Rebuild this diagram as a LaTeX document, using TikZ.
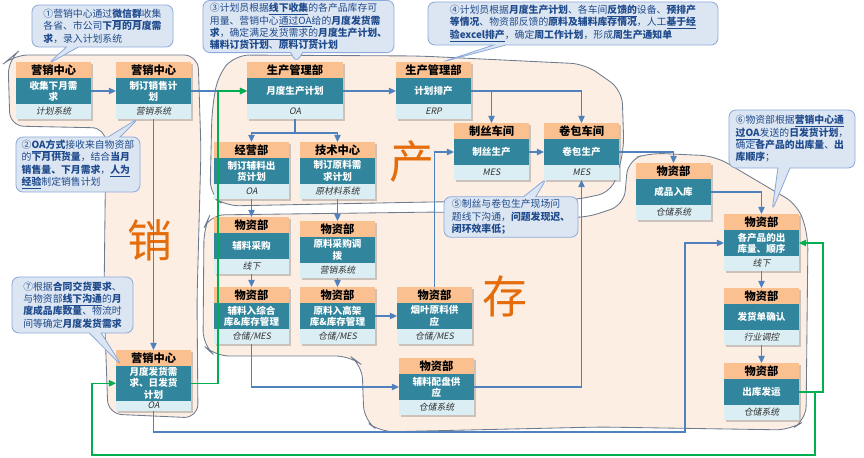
\documentclass[tikz,border=0pt]{standalone}
\usepackage{fontspec}
\setmainfont{Noto Sans CJK SC}
\newfontfamily\slantcjk[FakeSlant=0.2]{Noto Sans CJK SC}
\usepackage{xcolor}
\usetikzlibrary{arrows.meta,positioning,shadows,shapes.callouts}
\definecolor{hdfill}{HTML}{FAC090}
\definecolor{bdfill}{HTML}{31859C}
\definecolor{ftfill}{HTML}{DAEEF3}
\definecolor{blobfill}{HTML}{FDEEE4}
\definecolor{blobline}{HTML}{6E7B8E}
\definecolor{notefill}{HTML}{DCE6F2}
\definecolor{noteline}{HTML}{8EAADB}
\definecolor{notetext}{HTML}{1F4A8C}
\definecolor{lnblue}{HTML}{4F81BD}
\definecolor{lngreen}{HTML}{00B050}
\definecolor{bigorange}{HTML}{E46C0A}

\begin{document}
\begin{tikzpicture}[x=0.025cm, y=-0.025cm,
    shd/.style={drop shadow={shadow xshift=1.5pt, shadow yshift=-1.5pt, opacity=0.4}},
    hd/.style={rectangle, shd, fill=hdfill, minimum width=1.875cm, minimum height=0.4cm, inner sep=0pt, outer sep=0pt, font=\fontsize{8}{9}\selectfont\bfseries},
    bd/.style={rectangle, shd, fill=bdfill, minimum width=1.875cm, minimum height=0.65cm, inner sep=1pt, outer sep=0pt, align=center, text=white, font=\fontsize{6.8}{8}\selectfont\bfseries},
    ft/.style={rectangle, shd, fill=ftfill, minimum width=1.875cm, minimum height=0.375cm, inner sep=0pt, outer sep=0pt, text=black!80, font=\slantcjk\fontsize{6.3}{7}\selectfont},
    blob/.style={fill=blobfill, draw=blobline, line width=0.6pt, rounded corners=10pt},
    bigch/.style={text=bigorange, font=\fontsize{32}{34}\selectfont},
    note/.style={rectangle callout, rounded corners=5pt, fill=notefill, draw=noteline, line width=0.6pt, align=left, inner sep=2pt, text=notetext, font=\fontsize{7}{8.8}\selectfont, callout pointer width=0.3cm},
    arr/.style={-{Triangle[length=5pt,width=4.5pt]}, line width=0.9pt, lnblue},
    garr/.style={-{Triangle[length=5pt,width=4.5pt]}, line width=0.9pt, lngreen}
]
    \useasboundingbox (0,0) rectangle (864,458);

    % regions
    \draw[blob] (14,55) -- (198,55) -- (201,150) -- (197,300) -- (198,418) -- (108,414) -- (104,300) -- (106,128) -- (10,126) -- (8,60) -- cycle;
    \draw[blob] (235,55) -- (420,56) -- (585,64) -- (622,90) -- (624,150) -- (612,192) -- (575,200) -- (430,202) -- (225,206) -- (210,195) -- (212,110) -- (218,75) -- cycle;
    \draw[blob] (210,215) -- (440,212) -- (585,218) -- (624,205) -- (628,160) -- (650,153) -- (715,156) -- (798,205) -- (808,235) -- (806,420) -- (790,430) -- (600,427) -- (380,432) -- (364,420) -- (362,365) -- (350,356) -- (215,356) -- (203,345) -- (204,228) -- cycle;

    \node[bigch] (xiao) at (150,240) {销};
    \node[bigch] (chan) at (412,162) {产};
    \node[bigch] (cun) at (505,296) {存};

    % cards
    \node[hd, anchor=north west] (h1) at (16,62) {营销中心};
    \node[bd, below=0pt of h1] (b1) {收集下月需\\求};
    \node[ft, below=0pt of b1] (f1) {计划系统};

    \node[hd, anchor=north west] (h2) at (116,62) {营销中心};
    \node[bd, below=0pt of h2] (b2) {制订销售计\\划};
    \node[ft, below=0pt of b2] (f2) {营销系统};

    \node[hd, anchor=north west, minimum width=2.4cm] (h3) at (247,62) {生产管理部};
    \node[bd, below=0pt of h3, minimum width=2.4cm] (b3) {月度生产计划};
    \node[ft, below=0pt of b3, minimum width=2.4cm] (f3) {OA};

    \node[hd, anchor=north west] (h4) at (396,62) {生产管理部};
    \node[bd, below=0pt of h4] (b4) {计划排产};
    \node[ft, below=0pt of b4] (f4) {ERP};

    \node[hd, anchor=north west] (h5) at (454,123) {制丝车间};
    \node[bd, below=0pt of h5] (b5) {制丝生产};
    \node[ft, below=0pt of b5] (f5) {MES};

    \node[hd, anchor=north west] (h6) at (544,123) {卷包车间};
    \node[bd, below=0pt of h6] (b6) {卷包生产};
    \node[ft, below=0pt of b6] (f6) {MES};

    \node[hd, anchor=north west] (h7) at (214,142) {经营部};
    \node[bd, below=0pt of h7] (b7) {制订辅料出\\货计划};
    \node[ft, below=0pt of b7] (f7) {OA};

    \node[hd, anchor=north west] (h8) at (300,142) {技术中心};
    \node[bd, below=0pt of h8] (b8) {制订原料需\\求计划};
    \node[ft, below=0pt of b8] (f8) {原材料系统};

    \node[hd, anchor=north west] (h9) at (214,217) {物资部};
    \node[bd, below=0pt of h9] (b9) {辅料采购};
    \node[ft, below=0pt of b9] (f9) {线下};

    \node[hd, anchor=north west] (h10) at (300,221) {物资部};
    \node[bd, below=0pt of h10] (b10) {原料采购调\\拨};
    \node[ft, below=0pt of b10] (f10) {营销系统};

    \node[hd, anchor=north west] (h11) at (214,287) {物资部};
    \node[bd, below=0pt of h11] (b11) {辅料入综合\\库\&库存管理};
    \node[ft, below=0pt of b11] (f11) {仓储/MES};

    \node[hd, anchor=north west] (h12) at (300,287) {物资部};
    \node[bd, below=0pt of h12] (b12) {原料入高架\\库\&库存管理};
    \node[ft, below=0pt of b12] (f12) {仓储/MES};

    \node[hd, anchor=north west] (h13) at (397,287) {物资部};
    \node[bd, below=0pt of h13] (b13) {烟叶原料供\\应};
    \node[ft, below=0pt of b13] (f13) {仓储/MES};

    \node[hd, anchor=north west] (h14) at (399,358) {物资部};
    \node[bd, below=0pt of h14] (b14) {辅料配盘供\\应};
    \node[ft, below=0pt of b14] (f14) {仓储系统};

    \node[hd, anchor=north west] (h15) at (636,163) {物资部};
    \node[bd, below=0pt of h15] (b15) {成品入库};
    \node[ft, below=0pt of b15] (f15) {仓储系统};

    \node[hd, anchor=north west] (h16) at (724,214) {物资部};
    \node[bd, below=0pt of h16] (b16) {各产品的出\\库量、顺序};
    \node[ft, below=0pt of b16] (f16) {线下};

    \node[hd, anchor=north west] (h17) at (724,288) {物资部};
    \node[bd, below=0pt of h17] (b17) {发货单确认};
    \node[ft, below=0pt of b17] (f17) {行业调控};

    \node[hd, anchor=north west] (h18) at (724,363) {物资部};
    \node[bd, below=0pt of h18] (b18) {出库发运};
    \node[ft, below=0pt of b18] (f18) {仓储系统};

    \node[hd, anchor=north west] (h19) at (116,350) {营销中心};
    \node[bd, below=0pt of h19, minimum height=0.75cm] (b19) {月度发货需\\求、日发货\\计划};
    \node[ft, below=0pt of b19, minimum height=0.25cm] (f19) {OA};

    % flow
    \coordinate (gcorner) at (92,455);
    \coordinate (bcorner) at (685,432);
    \draw[arr] (b1) -- (b2);
    \draw[arr] (b2) -- (b3);
    \draw[arr] (f2) -- (h19);
    \draw[arr] (b3) -- (b4);
    \draw[arr] (f3.south) -- ++(0,14) -| (h7);
    \draw[arr] (f3.south) -- ++(0,14) -| (h8);
    \draw[arr] (b4.east) -| (h5);
    \draw[arr] (b4.east) -| (h6);
    \draw[arr] (b5) -- (b6);
    \draw[arr] (b6.east) -| (h15);
    \draw[arr] (f7) -- (h9);
    \draw[arr] (f8) -- (h10);
    \draw[arr] (f9) -- (h11);
    \draw[arr] (f10) -- (h12);
    \draw[arr] (b12) -- (b13);
    \draw[arr] (f11.south) |- (b14);
    \draw[arr] (h13.north) |- (b5);
    \draw[arr] (b14.east) -| (f6);
    \draw[arr] (b15.east) -| (h16);
    \draw[arr] (f16) -- (h17);
    \draw[arr] (f17) -- (h18);
    \draw[arr] (f19) |- (bcorner) |- (b16);
    \draw[garr] (b18.east) -- ++(24,0) |- (b16);
    \draw[garr] (b18.east) -- ++(16,0) |- (gcorner) |- (b19);
    \draw[garr] (b19.east) -- ++(27,0) |- (b3);

    % notes
    \node[note, minimum width=3.525cm, minimum height=1.05cm, callout absolute pointer={(48,64)}] (n1) at (102.5,26)
        {①营销中心通过\underline{\textbf{微信群}}收集\\各省、市公司\textbf{下月的月度需}\\\textbf{求}，录入计划系统};
    \node[note, minimum width=3.1cm, minimum height=1.375cm, callout absolute pointer={(139,118)}] (n2) at (78,164.5)
        {②\underline{\textbf{OA方式}}接收来自物资部\\的\textbf{下月供货量}，结合\textbf{当月}\\\textbf{销售量、下月需求}，\underline{\textbf{人为}}\\\underline{\textbf{经验}}制定销售计划};
    \node[note, minimum width=4.775cm, minimum height=1.225cm, callout absolute pointer={(296,63)}] (n3) at (298.5,26.5)
        {③计划员根据\underline{\textbf{线下收集}}的各产品库存可\\用量、营销中心\underline{通过OA}给的\textbf{月度发货需}\\\textbf{求}，确定\underline{满足发货需求的}\textbf{月度生产计划、}\\\textbf{辅料订货计划}、\textbf{原料订货计划}};
    \node[note, minimum width=7.25cm, minimum height=1.075cm, callout absolute pointer={(442,62)}] (n4) at (573,23.5)
        {④计划员根据\textbf{月度生产计划}、各车间\underline{\textbf{反馈的}}设备、\textbf{预排产}\\\textbf{等情况}、物资部反馈的\textbf{原料及辅料库存情况}，人工\underline{\textbf{基于经}}\\\underline{\textbf{验excel排产}}，确定\textbf{周工作计划}，形成\textbf{周生产通知单}};
    \node[note, minimum width=3.35cm, minimum height=1.0cm, callout absolute pointer={(547,178)}] (n5) at (511,217)
        {⑤制丝与卷包生产现场问\\题线下沟通，\textbf{问题发现迟、}\\\textbf{闭环效率低；}};
    \node[note, minimum width=3.15cm, minimum height=1.45cm, callout absolute pointer={(772,211)}] (n6) at (792,139)
        {⑥物资部根据\underline{\textbf{营销中心通}}\\\underline{\textbf{过OA}}发送的\textbf{日发货计划}，\\确定\textbf{各产品的出库量}、\textbf{出}\\\textbf{库顺序}；};
    \node[note, minimum width=3.025cm, minimum height=1.4cm, callout absolute pointer={(122,366)}] (n7) at (72.5,305)
        {⑦根据\textbf{合同交货要求}、\\与物资部\underline{\textbf{线下沟通}}的\textbf{月}\\\textbf{度成品库数量}、物流时\\间等确定\textbf{月度发货需求}};
\end{tikzpicture}
\end{document}
